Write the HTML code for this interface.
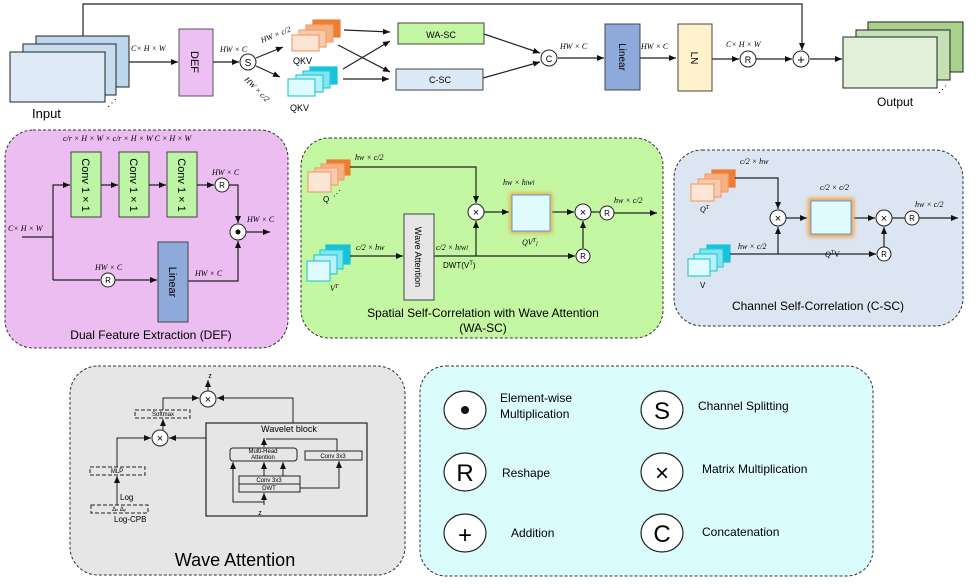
<!DOCTYPE html>
<html><head><meta charset="utf-8"><style>
body{margin:0;background:#fff}
svg{display:block;font-family:"Liberation Sans",sans-serif}
.m{font-family:"Liberation Serif",serif;font-style:italic;font-size:8px}
</style></head><body>
<svg width="980" height="588" viewBox="0 0 980 588" xmlns="http://www.w3.org/2000/svg">
<defs>
<marker id="a" markerWidth="8" markerHeight="8" refX="7" refY="3" orient="auto" markerUnits="userSpaceOnUse"><path d="M0,0 L7,3 L0,6z" fill="#111"/></marker>
<filter id="g" x="-30%" y="-30%" width="160%" height="160%"><feGaussianBlur stdDeviation="2"/></filter>
</defs>
<g stroke="#222" stroke-width="1.2" fill="none">
<!-- top skip line -->
<polyline points="83,36 83,4 802,4 802,50" marker-end="url(#a)"/>
</g>
<!-- Input stack -->
<g stroke="#222" stroke-width="1">
<rect x="36" y="36" width="93" height="51" fill="#bdd7ee"/>
<rect x="23" y="44" width="93" height="51" fill="#c8ddf0"/>
<rect x="10" y="52" width="95" height="50" fill="#deebf7"/>
</g>
<text x="107" y="106" font-size="10">⋰</text>
<text x="32" y="118" font-size="13">Input</text>
<g stroke="#222" stroke-width="1.2" fill="none">
<line x1="129" y1="62" x2="178" y2="62" marker-end="url(#a)"/>
<line x1="213" y1="62" x2="239" y2="62" marker-end="url(#a)"/>
<line x1="256" y1="58" x2="283" y2="47" marker-end="url(#a)"/>
<line x1="256" y1="66" x2="280" y2="77" marker-end="url(#a)"/>
<line x1="344" y1="30" x2="390" y2="32" marker-end="url(#a)"/>
<line x1="338" y1="45" x2="390" y2="72" marker-end="url(#a)"/>
<line x1="343" y1="69" x2="390" y2="41" marker-end="url(#a)"/>
<line x1="343" y1="79" x2="389" y2="79" marker-end="url(#a)"/>
<line x1="484" y1="34" x2="540" y2="53" marker-end="url(#a)"/>
<line x1="483" y1="78" x2="540" y2="62" marker-end="url(#a)"/>
<line x1="558" y1="58" x2="604" y2="58" marker-end="url(#a)"/>
<line x1="640" y1="58" x2="676" y2="58" marker-end="url(#a)"/>
<line x1="712" y1="59" x2="739" y2="59" marker-end="url(#a)"/>
<line x1="756" y1="59" x2="792" y2="59" marker-end="url(#a)"/>
<line x1="810" y1="59" x2="842" y2="59" marker-end="url(#a)"/>
</g>
<text x="131" y="51" class="m">C× H × W</text>
<rect x="179" y="29" width="34" height="67" fill="#ecc0f2" stroke="#555"/>
<text transform="translate(191,62) rotate(90)" font-size="11" text-anchor="middle">DEF</text>
<text x="220" y="52" class="m">HW × C</text>
<circle cx="248" cy="62" r="8" fill="#fff" stroke="#222"/><text x="248" y="66" font-size="10" text-anchor="middle">S</text>
<text transform="translate(262,43) rotate(-22)" class="m">HW × c/2</text>
<text transform="translate(244,80) rotate(45)" class="m">HW × c/2</text>
<!-- orange QKV -->
<g stroke-width="1.2">
<rect x="313" y="20" width="27" height="17" fill="#ed7d31" stroke="#ed7d31"/>
<rect x="306" y="25" width="27" height="17" fill="#f4b183" stroke="#f4a070"/>
<rect x="299" y="30" width="27" height="17" fill="#f8cbad" stroke="#f4a070"/>
<rect x="292" y="35" width="27" height="16" fill="#fbe5d6" stroke="#f4a070"/>
<rect x="310" y="67" width="27" height="17" fill="#17c2dc" stroke="#17c2dc"/>
<rect x="303" y="71" width="27" height="17" fill="#7fe4f3" stroke="#3cc"/>
<rect x="296" y="75" width="27" height="17" fill="#b8f1f9" stroke="#3cc"/>
<rect x="288" y="79" width="27" height="17" fill="#e0fbff" stroke="#3cc"/>
</g>
<text x="293" y="64" font-size="9">QKV</text>
<text x="290" y="111" font-size="9">QKV</text>
<rect x="398" y="23" width="86" height="21" fill="#c3f7a2" stroke="#444"/>
<text x="441" y="38" font-size="9" text-anchor="middle">WA-SC</text>
<rect x="396" y="69" width="87" height="21" fill="#dce9f6" stroke="#444"/>
<text x="440" y="83" font-size="9" text-anchor="middle">C-SC</text>
<circle cx="549" cy="58" r="8" fill="#fff" stroke="#222"/><text x="549" y="62" font-size="9" text-anchor="middle">C</text>
<text x="560" y="49" class="m">HW × C</text>
<rect x="605" y="24" width="35" height="66" fill="#8eaadb" stroke="#444"/>
<text transform="translate(619,57) rotate(90)" font-size="10" text-anchor="middle">Linear</text>
<text x="641" y="49" class="m">HW × C</text>
<rect x="678" y="24" width="34" height="67" fill="#fff2cc" stroke="#444"/>
<text transform="translate(691,58) rotate(90)" font-size="10" text-anchor="middle">LN</text>
<text x="726" y="47" class="m">C× H × W</text>
<circle cx="748" cy="59" r="8" fill="#fff" stroke="#222"/><text x="748" y="63" font-size="9" text-anchor="middle">R</text>
<circle cx="801" cy="59" r="8" fill="#fff" stroke="#222"/><text x="801" y="64" font-size="13" text-anchor="middle">+</text>
<g stroke="#222">
<rect x="868" y="22" width="95" height="50" fill="#a9d18e"/>
<rect x="856" y="30" width="94" height="50" fill="#c5e0b4"/>
<rect x="843" y="37" width="94" height="51" fill="#e2f0d9"/>
</g>
<text x="938" y="92" font-size="9">⋰</text>
<text x="877" y="106" font-size="12">Output</text>

<!-- DEF panel -->
<rect x="5" y="130" width="283" height="218" rx="28" fill="#ebbdf1" stroke="#333" stroke-dasharray="3,2"/>
<text x="63" y="141" class="m" font-size="7.5">c/r × H × W × c/r × H × W C × H × W</text>
<g fill="#bdf5a5" stroke="#444">
<rect x="71" y="152" width="30" height="65"/><rect x="119" y="152" width="30" height="65"/><rect x="167" y="152" width="30" height="65"/>
</g>
<g font-size="11" text-anchor="middle">
<text transform="translate(82,185) rotate(90)">Conv 1 × 1</text>
<text transform="translate(130,185) rotate(90)">Conv 1 × 1</text>
<text transform="translate(178,185) rotate(90)">Conv 1 × 1</text>
</g>
<g stroke="#222" stroke-width="1.2" fill="none">
<polyline points="22,237 53,237"/>
<polyline points="53,280 53,185 70,185" marker-end="url(#a)"/>
<line x1="101" y1="185" x2="118" y2="185" marker-end="url(#a)"/>
<line x1="149" y1="185" x2="166" y2="185" marker-end="url(#a)"/>
<line x1="197" y1="185" x2="214" y2="185" marker-end="url(#a)"/>
<polyline points="229,185 238,185 238,223" marker-end="url(#a)"/>
<polyline points="53,280 100,280"/>
<line x1="115" y1="280" x2="157" y2="280" marker-end="url(#a)"/>
<polyline points="188,281 238,281 238,241" marker-end="url(#a)"/>
<line x1="246" y1="232" x2="270" y2="232" marker-end="url(#a)"/>
</g>
<circle cx="222" cy="185" r="7" fill="#fff" stroke="#222"/><text x="222" y="188" font-size="8" text-anchor="middle">R</text>
<circle cx="238" cy="232" r="8" fill="#fff" stroke="#222"/><circle cx="238" cy="232" r="2.5" fill="#111"/>
<circle cx="108" cy="280" r="7" fill="#fff" stroke="#222"/><text x="108" y="283" font-size="8" text-anchor="middle">R</text>
<rect x="158" y="242" width="30" height="80" fill="#8eaadb" stroke="#444"/>
<text transform="translate(169,282) rotate(90)" font-size="11" text-anchor="middle">Linear</text>
<text x="8" y="231" class="m">C× H × W</text>
<text x="212" y="175" class="m">HW × C</text>
<text x="247" y="222" class="m">HW × C</text>
<text x="95" y="270" class="m">HW × C</text>
<text x="195" y="276" class="m">HW × C</text>
<text x="151" y="339" font-size="12" text-anchor="middle">Dual Feature Extraction (DEF)</text>

<!-- WA-SC panel -->
<rect x="301" y="138" width="362" height="200" rx="28" fill="#c3f7a2" stroke="#333" stroke-dasharray="3,2"/>
<g stroke-width="1.2">
<rect x="327" y="160" width="23" height="15" fill="#ed7d31" stroke="#ed7d31"/>
<rect x="321" y="164" width="23" height="16" fill="#f4b183" stroke="#f4a070"/>
<rect x="315" y="168" width="23" height="17" fill="#f8cbad" stroke="#f4a070"/>
<rect x="308" y="172" width="23" height="20" fill="#fbe5d6" stroke="#f4a070"/>
<rect x="326" y="245" width="24" height="19" fill="#17c2dc" stroke="#17c2dc"/>
<rect x="320" y="250" width="23" height="19" fill="#7fe4f3" stroke="#3cc"/>
<rect x="314" y="255" width="23" height="19" fill="#b8f1f9" stroke="#3cc"/>
<rect x="307" y="261" width="23" height="20" fill="#e0fbff" stroke="#3cc"/>
</g>
<text x="323" y="202" font-size="8">Q</text><text x="333" y="196" font-size="8">⋰</text>
<text x="330" y="291" class="m">V<tspan dy="-3" font-size="6">T</tspan></text>
<text x="355" y="160" class="m">hw × c/2</text>
<text x="356" y="250" class="m">c/2 × hw</text>
<g stroke="#222" stroke-width="1.2" fill="none">
<polyline points="350,167 476,167 476,203" marker-end="url(#a)"/>
<line x1="350" y1="256" x2="403" y2="256" marker-end="url(#a)"/>
<polyline points="434,256 575,256" marker-end="url(#a)"/>
<line x1="476" y1="256" x2="476" y2="221" marker-end="url(#a)"/>
<line x1="484" y1="212" x2="509" y2="212" marker-end="url(#a)"/>
<line x1="552" y1="212" x2="574" y2="212" marker-end="url(#a)"/>
<line x1="583" y1="248" x2="583" y2="221" marker-end="url(#a)"/>
<line x1="614" y1="213" x2="657" y2="213" marker-end="url(#a)"/>
<line x1="591" y1="212" x2="600" y2="212"/>
</g>
<rect x="510" y="193" width="42" height="40" fill="#f5a040" filter="url(#g)"/>
<rect x="512" y="195" width="38" height="36" fill="#e0fcff" stroke="#5a9bd5"/>
<rect x="404" y="214" width="30" height="86" fill="#e6e6e6" stroke="#444"/>
<text transform="translate(415,257) rotate(90)" font-size="9" text-anchor="middle">Wave Attention</text>
<circle cx="476" cy="212" r="8" fill="#fff" stroke="#222"/><text x="476" y="216" font-size="11" text-anchor="middle">×</text>
<circle cx="583" cy="212" r="8" fill="#fff" stroke="#222"/><text x="583" y="216" font-size="11" text-anchor="middle">×</text>
<circle cx="607" cy="213" r="7" fill="#fff" stroke="#222"/><text x="607" y="216" font-size="8" text-anchor="middle">R</text>
<circle cx="583" cy="256" r="7" fill="#fff" stroke="#222"/><text x="583" y="259" font-size="8" text-anchor="middle">R</text>
<text x="503" y="185" class="m">hw × h<tspan font-size="6">l</tspan>w<tspan font-size="6">l</tspan></text>
<text x="522" y="245" class="m">QV<tspan font-size="6" dy="-3">T</tspan><tspan font-size="6" dy="4">l</tspan></text>
<text x="614" y="203" class="m">hw × c/2</text>
<text x="436" y="250" class="m">c/2 × h<tspan font-size="6">l</tspan>w<tspan font-size="6">l</tspan></text>
<text x="443" y="268" font-size="8">DWT(V<tspan font-size="6" dy="-3">T</tspan><tspan dy="3">)</tspan></text>
<text x="483" y="317" font-size="12" text-anchor="middle">Spatial Self-Correlation with Wave Attention</text>
<text x="483" y="332" font-size="12" text-anchor="middle">(WA-SC)</text>

<!-- C-SC panel -->
<rect x="674" y="150" width="289" height="176" rx="28" fill="#dce6f2" stroke="#333" stroke-dasharray="3,2"/>
<g stroke-width="1.2">
<rect x="712" y="170" width="23" height="17" fill="#ed7d31" stroke="#ed7d31"/>
<rect x="705" y="174" width="23" height="18" fill="#f4b183" stroke="#f4a070"/>
<rect x="698" y="179" width="23" height="18" fill="#f8cbad" stroke="#f4a070"/>
<rect x="691" y="184" width="23" height="17" fill="#fbe5d6" stroke="#f4a070"/>
<rect x="707" y="245" width="23" height="17" fill="#17c2dc" stroke="#17c2dc"/>
<rect x="700" y="249" width="23" height="18" fill="#7fe4f3" stroke="#3cc"/>
<rect x="694" y="254" width="23" height="17" fill="#b8f1f9" stroke="#3cc"/>
<rect x="688" y="259" width="22" height="17" fill="#e0fbff" stroke="#3cc"/>
</g>
<text x="700" y="212" class="m">Q<tspan font-size="6" dy="-3">T</tspan></text>
<text x="700" y="288" font-size="8">V</text>
<text x="740" y="164" class="m">c/2 × hw</text>
<text x="738" y="249" class="m">hw × c/2</text>
<g stroke="#222" stroke-width="1.2" fill="none">
<polyline points="735,178 778,178 778,209" marker-end="url(#a)"/>
<line x1="730" y1="254" x2="876" y2="254" marker-end="url(#a)"/>
<line x1="778" y1="254" x2="778" y2="227" marker-end="url(#a)"/>
<line x1="786" y1="218" x2="807" y2="218" marker-end="url(#a)"/>
<line x1="854" y1="218" x2="875" y2="218" marker-end="url(#a)"/>
<line x1="884" y1="247" x2="884" y2="227" marker-end="url(#a)"/>
<line x1="892" y1="218" x2="905" y2="218"/>
<line x1="919" y1="218" x2="958" y2="218" marker-end="url(#a)"/>
</g>
<rect x="808" y="198" width="46" height="39" fill="#f5a040" filter="url(#g)"/>
<rect x="811" y="201" width="40" height="33" fill="#e0fcff" stroke="#5a9bd5"/>
<circle cx="778" cy="218" r="8" fill="#fff" stroke="#222"/><text x="778" y="222" font-size="11" text-anchor="middle">×</text>
<circle cx="884" cy="218" r="8" fill="#fff" stroke="#222"/><text x="884" y="222" font-size="11" text-anchor="middle">×</text>
<circle cx="912" cy="218" r="7" fill="#fff" stroke="#222"/><text x="912" y="221" font-size="8" text-anchor="middle">R</text>
<circle cx="884" cy="254" r="7" fill="#fff" stroke="#222"/><text x="884" y="257" font-size="8" text-anchor="middle">R</text>
<text x="820" y="190" class="m">c/2 × c/2</text>
<text x="825" y="257" class="m">Q<tspan font-size="6" dy="-3">T</tspan><tspan dy="3" font-style="normal">V</tspan></text>
<text x="915" y="207" class="m">hw × c/2</text>
<text x="818" y="310" font-size="12" text-anchor="middle">Channel Self-Correlation (C-SC)</text>

<!-- Wave Attention panel -->
<rect x="70" y="366" width="335" height="209" rx="28" fill="#e6e6e6" stroke="#333" stroke-dasharray="3,2"/>
<g stroke="#222" stroke-width="1" fill="none">
<line x1="208" y1="391" x2="208" y2="380" marker-end="url(#a)"/>
<polyline points="163,410 163,398 199,398" marker-end="url(#a)"/>
<polyline points="293,423 293,398 217,398" marker-end="url(#a)"/>
<line x1="163" y1="430" x2="163" y2="419" marker-end="url(#a)"/>
<line x1="206" y1="438" x2="169" y2="438" marker-end="url(#a)"/>
<polyline points="117,467 117,438 151,438" marker-end="url(#a)"/>
<line x1="117" y1="505" x2="117" y2="476" marker-end="url(#a)"/>
<rect x="206" y="423" width="161" height="93" stroke-width="1.2"/>
<rect x="135" y="410" width="55" height="8" stroke-dasharray="4,2"/>
<rect x="90" y="467" width="55" height="8" stroke-dasharray="4,2"/>
<rect x="91" y="505" width="57" height="8" stroke-dasharray="4,2"/>
<rect x="230" y="448" width="67" height="13" rx="3"/>
<rect x="305" y="451" width="57" height="9"/>
<rect x="239" y="476" width="61" height="8"/>
<rect x="239" y="484" width="61" height="8"/>
<line x1="264" y1="447" x2="264" y2="438" marker-end="url(#a)"/>
<polyline points="337,451 337,439 266,439"/>
<line x1="264" y1="476" x2="264" y2="462" marker-end="url(#a)"/>
<line x1="283" y1="476" x2="283" y2="462" marker-end="url(#a)"/>
<line x1="264" y1="505" x2="264" y2="493" marker-end="url(#a)"/>
<polyline points="264,502 233,502 233,462" marker-end="url(#a)"/>
<polyline points="300,488 339,488 339,461" marker-end="url(#a)"/>
</g>
<circle cx="208" cy="399" r="8" fill="#fff" stroke="#222"/><text x="208" y="403" font-size="11" text-anchor="middle">×</text>
<circle cx="160" cy="438" r="8" fill="#fff" stroke="#222"/><text x="160" y="442" font-size="11" text-anchor="middle">×</text>
<g font-size="6" text-anchor="middle">
<text x="163" y="416">Softmax</text><text x="117" y="473">MLP</text>
<text x="119" y="511">Δ<tspan font-size="4">x</tspan> Δ<tspan font-size="4">y</tspan></text>
<text x="263" y="453">Multi-Head</text><text x="263" y="459">Attention</text>
<text x="333" y="458">Conv 3x3</text><text x="269" y="482">Conv 3x3</text><text x="269" y="490">DWT</text>
</g>
<text x="210" y="378" font-size="7" text-anchor="middle">z</text>
<text x="260" y="515" font-size="7" text-anchor="middle">z</text>
<text x="289" y="432" font-size="9" text-anchor="middle">Wavelet block</text>
<text x="120" y="500" font-size="8">Log</text>
<text x="114" y="522" font-size="8">Log-CPB</text>
<text x="235" y="566" font-size="18" text-anchor="middle">Wave Attention</text>

<!-- Legend -->
<rect x="420" y="366" width="453" height="210" rx="26" fill="#dafcfc" stroke="#333" stroke-dasharray="3,2"/>
<g fill="#fff" stroke="#222" stroke-width="1.2">
<ellipse cx="465" cy="410" rx="21" ry="19"/><ellipse cx="465" cy="472" rx="21" ry="19"/><ellipse cx="465" cy="533" rx="21" ry="19"/>
<ellipse cx="662" cy="410" rx="21" ry="19"/><ellipse cx="662" cy="472" rx="21" ry="19"/><ellipse cx="662" cy="533" rx="21" ry="19"/>
</g>
<circle cx="465" cy="410" r="4" fill="#111"/>
<g font-size="24" text-anchor="middle">
<text x="465" y="481">R</text><text x="465" y="543">+</text>
<text x="662" y="419">S</text><text x="662" y="481">×</text><text x="662" y="542">C</text>
</g>
<g font-size="12">
<text x="500" y="402">Element-wise</text><text x="500" y="418">Multiplication</text>
<text x="502" y="477">Reshape</text><text x="511" y="537">Addition</text>
<text x="698" y="410">Channel Splitting</text>
<text x="702" y="473">Matrix Multiplication</text>
<text x="702" y="536">Concatenation</text>
</g>
</svg>
</body></html>
